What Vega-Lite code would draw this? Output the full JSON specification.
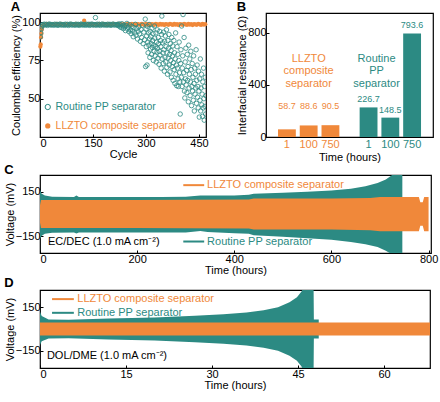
{
  "$schema": "https://vega.github.io/schema/vega-lite/v6.json",
  "padding": {"left": 3, "top": 0, "right": 4, "bottom": 0},
  "spacing": 0,
  "config": {
    "font": "Liberation Sans",
    "view": {"stroke": "black", "strokeWidth": 1.2},
    "axis": {"grid": false, "domain": false, "labelFontSize": 11, "titleFontSize": 11, "titleFontWeight": "normal", "labelColor": "black", "titleColor": "black", "tickColor": "black", "tickSize": -3, "labelPadding": 3, "titlePadding": 0, "labelFont": "Liberation Sans", "titleFont": "Liberation Sans"},
    "title": {"fontSize": 13, "fontWeight": "bold", "anchor": "start", "frame": "bounds", "offset": 0, "font": "Liberation Sans", "color": "black"}
  },
  "datasets": {
    "ppC": [
      {"t": 0, "hi": 165, "lo": -170}, {"t": 3, "hi": 140, "lo": -150}, {"t": 10, "hi": 125, "lo": -135}, {"t": 25, "hi": 118, "lo": -128},
      {"t": 70, "hi": 116, "lo": -126}, {"t": 75, "hi": 125, "lo": -132}, {"t": 80, "hi": 116, "lo": -126}, {"t": 150, "hi": 115, "lo": -125},
      {"t": 250, "hi": 115, "lo": -125}, {"t": 300, "hi": 117, "lo": -126}, {"t": 330, "hi": 125, "lo": -115}, {"t": 345, "hi": 125, "lo": -122},
      {"t": 400, "hi": 125, "lo": -130}, {"t": 430, "hi": 130, "lo": -135}, {"t": 440, "hi": 138, "lo": -145}, {"t": 500, "hi": 145, "lo": -155},
      {"t": 550, "hi": 152, "lo": -165}, {"t": 600, "hi": 160, "lo": -175}, {"t": 640, "hi": 172, "lo": -190}, {"t": 670, "hi": 188, "lo": -205},
      {"t": 695, "hi": 210, "lo": -225}, {"t": 712, "hi": 235, "lo": -250}, {"t": 725, "hi": 265, "lo": -275}, {"t": 735, "hi": 300, "lo": -300},
      {"t": 746, "hi": 300, "lo": -300}
    ],
    "llC": [
      {"t": 0, "hi": 60, "lo": -60}, {"t": 2, "hi": 95, "lo": -95}, {"t": 200, "hi": 95, "lo": -95}, {"t": 300, "hi": 96, "lo": -96},
      {"t": 430, "hi": 98, "lo": -98}, {"t": 440, "hi": 105, "lo": -105}, {"t": 600, "hi": 105, "lo": -105}, {"t": 680, "hi": 108, "lo": -110},
      {"t": 700, "hi": 115, "lo": -118}, {"t": 780, "hi": 115, "lo": -118}, {"t": 783, "hi": 80, "lo": -80}, {"t": 788, "hi": 80, "lo": -80},
      {"t": 791, "hi": 115, "lo": -118}, {"t": 800, "hi": 115, "lo": -118}
    ],
    "ppD": [
      {"t": 0, "hi": 120, "lo": -110}, {"t": 0.3, "hi": 90, "lo": -85}, {"t": 1.5, "hi": 66, "lo": -66}, {"t": 5, "hi": 64, "lo": -64},
      {"t": 12, "hi": 72, "lo": -72}, {"t": 20, "hi": 80, "lo": -80}, {"t": 27, "hi": 92, "lo": -92}, {"t": 32, "hi": 102, "lo": -102},
      {"t": 36, "hi": 115, "lo": -115}, {"t": 39, "hi": 130, "lo": -130}, {"t": 41.5, "hi": 150, "lo": -150}, {"t": 43.5, "hi": 185, "lo": -185},
      {"t": 44.8, "hi": 220, "lo": -220}, {"t": 45.6, "hi": 260, "lo": -260}, {"t": 46, "hi": 300, "lo": -300}, {"t": 47.7, "hi": 300, "lo": -300},
      {"t": 47.75, "hi": 65, "lo": -65}, {"t": 48.6, "hi": 65, "lo": -65}
    ],
    "llD": [
      {"t": 0, "hi": 45, "lo": -45}, {"t": 68, "hi": 45, "lo": -45}
    ],
    "bars": [
      {"group": "LLZTO", "time": "1", "resistance": 58.7},
      {"group": "LLZTO", "time": "100", "resistance": 88.6},
      {"group": "LLZTO", "time": "750", "resistance": 90.5},
      {"group": "PP", "time": "1", "resistance": 226.7},
      {"group": "PP", "time": "100", "resistance": 148.5},
      {"group": "PP", "time": "750", "resistance": 793.6}
    ]
  },
  "vconcat": [
    {
      "hconcat": [
        {
          "width": 166, "height": 124,
          "title": {"text": "A", "offset": -1},
          "layer": [
            {
              "data": {"values": "cycle,ce\n1,84\n2,85.5\n3,90\n4,92.5\n5,95\n6,96.5\n8,97.8\n12,98.6\n16,98.2\n20,98.9\n24,98.4\n28,98.7\n32,98.1\n36,98.8\n40,98.5\n44,98.3\n48,98.9\n52,98.6\n56,98.2\n60,98.9\n64,98.4\n68,98.7\n72,98.1\n76,98.8\n80,98.5\n84,98.3\n88,98.9\n92,98.6\n96,98.2\n100,98.9\n104,98.4\n108,98.7\n112,98.1\n116,98.8\n120,98.5\n124,98.3\n125,101\n128,98.9\n132,98.6\n136,98.2\n140,98.9\n144,98.4\n148,98.7\n152,98.1\n156,98.8\n160,98.5\n164,98.3\n168,98.9\n172,98.6\n176,98.2\n180,98.9\n184,98.4\n188,98.7\n192,98.1\n196,98.8\n200,98.5\n204,98.3\n208,98.9\n212,98.6\n216,98.2\n220,98.9\n224,98.4\n228,98.7\n232,98.1\n236,98.8\n240,98.5\n244,98.3\n248,98.9\n252,98.6\n256,98.2\n260,98.9\n264,98.4\n268,98.7\n272,98.1\n276,98.8\n280,98.5\n284,98.3\n288,98.9\n292,98.6\n296,98.2\n300,98.9\n304,98.4\n308,98.7\n312,98.1\n316,98.8\n320,98.5\n324,98.3\n328,98.9\n332,98.6\n336,98.2\n340,98.9\n344,98.4\n348,98.7\n352,98.1\n356,98.8\n360,98.5\n364,98.3\n368,98.9\n372,98.6\n376,98.2\n380,98.9\n384,98.4\n388,98.7\n392,98.1\n396,98.8\n400,98.5\n404,98.3\n408,98.9\n412,98.6\n416,98.2\n420,98.9\n424,98.4\n428,98.7\n432,98.1\n436,98.8\n440,98.5\n444,98.3\n448,98.9\n452,98.6\n456,98.2\n460,98.9\n464,98.4\n468,98.7", "format": {"type": "csv", "parse": {"cycle": "number", "ce": "number"}}},
              "mark": {"type": "circle", "size": 18, "color": "#F0883A", "opacity": 1},
              "encoding": {
                "x": {"field": "cycle", "type": "quantitative", "scale": {"domain": [0, 470], "nice": false}, "axis": {"values": [0, 150, 300, 450], "title": "Cycle"}},
                "y": {"field": "ce", "type": "quantitative", "scale": {"domain": [25, 106], "nice": false}, "axis": {"values": [50, 75, 100], "title": "Coulombic efficiency (%)"}}
              }
            },
            {
              "data": {"values": "cycle,ce\n1,90.5\n2,93\n3,95.5\n4,97\n6,98.4\n9,98\n12,98.7\n15,98.2\n18,98.6\n21,97.9\n24,98.5\n27,98.8\n30,98.1\n33,98.4\n36,98.4\n39,98\n42,98.7\n45,98.2\n48,98.6\n51,97.9\n54,98.5\n57,98.8\n60,98.1\n63,98.4\n66,98.4\n69,98\n72,98.7\n75,98.2\n78,98.6\n81,97.9\n84,98.5\n87,98.8\n90,98.1\n93,98.4\n96,98.4\n99,98\n102,98.7\n105,98.2\n108,98.6\n111,97.9\n114,98.5\n117,98.8\n120,98.1\n123,98.4\n126,98.4\n129,98\n132,98.7\n135,98.2\n138,98.6\n141,97.9\n144,98.5\n147,98.8\n150,98.1\n153,98.4\n156,98.4\n157,103\n159,98\n162,98.7\n165,98.2\n168,98.6\n171,97.9\n174,98.5\n177,98.8\n180,98.1\n183,98.4\n186,98.4\n189,98\n192,98.7\n195,98.2\n198,98.6\n201,97.9\n204,98.5\n207,98.8\n210,98.1\n213,98.4\n216,98.4\n219,98\n220,98.5\n222,97.8\n224,98.9\n226,97\n228,98.2\n230,96.5\n232,99\n234,97.5\n236,95.8\n238,98\n240,96.9\n242,94.5\n244,97.8\n246,99.2\n248,95.5\n250,96.8\n252,93.8\n254,98.3\n256,95\n258,92.5\n260,97.2\n262,94.2\n264,90.5\n266,96.5\n268,93\n270,98.6\n272,91.5\n274,95.8\n276,89\n278,94\n280,97\n282,92.3\n284,87.5\n286,95.2\n288,90\n290,98\n292,86\n294,93.5\n296,88.5\n298,102\n299,71\n300,95.5\n301,84\n302,91\n303,72\n304,97.3\n305,87\n306,80\n307,93\n308,85\n309,98.5\n310,89\n311,77\n312,94\n313,82.5\n314,90.5\n315,86\n316,79\n317,96\n318,83.5\n319,88\n320,92.5\n321,75\n322,85\n323,81\n324,97.5\n325,89.5\n326,78\n327,84\n328,93\n329,74\n330,87\n331,80.5\n332,95\n333,83\n334,76.5\n335,90\n336,86\n337,72.5\n338,81\n339,94\n340,78.5\n341,88\n342,84\n343,70\n344,92\n345,104\n346,76\n347,86.5\n348,80\n349,73\n350,93.5\n351,82\n352,68\n353,87.5\n354,77\n355,91\n356,74\n357,84\n358,95\n359,70.5\n360,80\n361,66\n362,88\n363,76.5\n364,83\n365,92\n366,72\n367,79\n368,67.5\n369,86\n370,75\n371,81.5\n372,64\n373,90\n374,71\n375,78\n376,84.5\n377,62\n378,73.5\n379,88\n380,69\n381,80\n382,60\n383,76\n384,93\n385,66\n386,72\n387,58.5\n388,84\n389,70\n390,79\n391,63\n392,58\n393,75\n394,87\n395,67\n396,61\n397,40\n398,73\n399,82\n400,64\n401,97.5\n402,58\n403,70\n404,78\n405,105\n406,61\n407,67\n408,90\n409,55\n410,50.5\n411,74\n412,63\n413,83\n414,59\n415,68.5\n416,54\n417,79\n418,62\n419,71\n420,48\n421,85\n422,57\n423,66\n424,76\n425,52\n426,61\n427,81\n428,69\n429,45.5\n430,58\n431,73\n432,55\n433,64\n434,49\n435,78\n436,60\n437,42\n438,70\n439,53\n440,66\n441,57\n442,82\n443,47\n444,62\n445,72\n446,51\n447,58\n448,44\n449,68\n450,55\n451,38\n452,63\n453,49\n454,76\n455,42\n456,57\n457,66\n458,46\n459,53\n460,38.5\n461,61\n462,44\n463,70\n464,50\n465,36\n466,58\n467,45\n468,64\n469,40\n470,52", "format": {"type": "csv", "parse": {"cycle": "number", "ce": "number"}}},
              "mark": {"type": "point", "shape": "circle", "size": 20, "color": "#2C8A83", "filled": false, "strokeWidth": 0.8, "opacity": 1, "clip": true},
              "encoding": {
                "x": {"field": "cycle", "type": "quantitative"},
                "y": {"field": "ce", "type": "quantitative"}
              }
            },
            {
              "data": {"values": [{}]},
              "mark": {"type": "point", "shape": "circle", "size": 28, "color": "#2C8A83", "filled": false, "strokeWidth": 1, "opacity": 1},
              "encoding": {"x": {"datum": 22}, "y": {"datum": 44.6}}
            },
            {
              "data": {"values": [{}]},
              "mark": {"type": "circle", "size": 28, "color": "#F0883A", "opacity": 1},
              "encoding": {"x": {"datum": 22}, "y": {"datum": 32.2}}
            },
            {
              "data": {"values": [{}]},
              "mark": {"type": "text", "align": "left", "baseline": "middle", "fontSize": 10.5, "color": "#2C8A83", "text": "Routine PP separator"},
              "encoding": {"x": {"datum": 44}, "y": {"datum": 44.6}}
            },
            {
              "data": {"values": [{}]},
              "mark": {"type": "text", "align": "left", "baseline": "middle", "fontSize": 10.5, "color": "#F0883A", "text": "LLZTO composite separator"},
              "encoding": {"x": {"datum": 44}, "y": {"datum": 32.2}}
            }
          ]
        },
        {
          "width": 167, "height": 124,
          "title": {"text": "B", "offset": -1},
          "data": {"name": "bars"},
          "encoding": {
            "x": {"field": "group", "type": "nominal", "scale": {"domain": ["LLZTO", "PP"], "paddingInner": 0.195, "paddingOuter": 0.12}, "axis": {"labels": false, "ticks": false, "title": "Time (hours)", "titlePadding": 14}},
            "xOffset": {"field": "time", "type": "nominal", "scale": {"domain": ["1", "100", "750"], "paddingInner": 0.18, "paddingOuter": 0.1}},
            "color": {"field": "group", "type": "nominal", "scale": {"domain": ["LLZTO", "PP"], "range": ["#F0883A", "#2C8A83"]}, "legend": null}
          },
          "layer": [
            {
              "mark": {"type": "bar"},
              "encoding": {"y": {"field": "resistance", "type": "quantitative", "scale": {"domain": [0, 950], "nice": false}, "axis": {"values": [0, 200, 400, 600, 800], "title": "Interfacial resistance (Ω)"}}}
            },
            {
              "transform": [{"filter": "datum.group === 'PP'"}],
              "mark": {"type": "text", "baseline": "bottom", "dy": -3, "fontSize": 9},
              "encoding": {"y": {"field": "resistance", "type": "quantitative"}, "text": {"field": "resistance", "type": "quantitative", "format": ".1f"}}
            },
            {
              "transform": [{"filter": "datum.group === 'LLZTO'"}],
              "mark": {"type": "text", "baseline": "bottom", "fontSize": 9},
              "encoding": {"y": {"datum": 200}, "text": {"field": "resistance", "type": "quantitative", "format": ".1f"}}
            },
            {
              "mark": {"type": "text", "baseline": "top", "dy": 2, "fontSize": 11},
              "encoding": {"y": {"datum": 0}, "text": {"field": "time"}}
            },
            {
              "data": {"values": [{"group": "LLZTO", "time": "100"}]},
              "mark": {"type": "text", "text": ["LLZTO", "composite", "separator"], "lineHeight": 12.5, "fontSize": 11, "baseline": "middle"},
              "encoding": {"y": {"datum": 600}}
            },
            {
              "data": {"values": [{"group": "PP", "time": "1"}]},
              "mark": {"type": "text", "text": ["Routine", "PP", "separator"], "lineHeight": 12.5, "fontSize": 11, "baseline": "middle", "dx": 8},
              "encoding": {"y": {"datum": 600}}
            }
          ]
        }
      ],
      "spacing": 27
    },
    {
      "width": 391, "height": 78,
      "title": {"text": "C", "offset": -2},
      "layer": [
        {
          "data": {"name": "ppC"},
          "mark": {"type": "area", "color": "#2C8A83", "clip": true, "opacity": 1},
          "encoding": {
            "x": {"field": "t", "type": "quantitative", "scale": {"domain": [0, 805], "nice": false}, "axis": {"values": [0, 200, 400, 600, 800], "title": "Time (hours)"}},
            "y": {"field": "hi", "type": "quantitative", "scale": {"domain": [-265, 265], "nice": false}, "axis": {"values": [-150, 0, 150], "title": "Voltage (mV)"}},
            "y2": {"field": "lo"}
          }
        },
        {
          "data": {"name": "llC"},
          "mark": {"type": "area", "color": "#F0883A", "clip": true, "opacity": 1},
          "encoding": {"x": {"field": "t", "type": "quantitative"}, "y": {"field": "hi", "type": "quantitative"}, "y2": {"field": "lo"}}
        },
        {
          "data": {"values": [{}]},
          "mark": {"type": "rule", "color": "#F0883A", "strokeWidth": 2},
          "encoding": {"x": {"datum": 295}, "x2": {"datum": 338}, "y": {"datum": 196}}
        },
        {
          "data": {"values": [{}]},
          "mark": {"type": "rule", "color": "#2C8A83", "strokeWidth": 2},
          "encoding": {"x": {"datum": 295}, "x2": {"datum": 338}, "y": {"datum": -187}}
        },
        {
          "data": {"values": [{}]},
          "mark": {"type": "text", "align": "left", "baseline": "middle", "fontSize": 11, "color": "#F0883A", "text": "LLZTO composite separator"},
          "encoding": {"x": {"datum": 344}, "y": {"datum": 196}}
        },
        {
          "data": {"values": [{}]},
          "mark": {"type": "text", "align": "left", "baseline": "middle", "fontSize": 11, "color": "#2C8A83", "text": "Routine PP separator"},
          "encoding": {"x": {"datum": 344}, "y": {"datum": -187}}
        },
        {
          "data": {"values": [{}]},
          "mark": {"type": "text", "align": "left", "baseline": "middle", "fontSize": 11, "color": "black", "text": "EC/DEC (1.0 mA cm⁻²)"},
          "encoding": {"x": {"datum": 16.5}, "y": {"datum": -187}}
        }
      ]
    },
    {
      "width": 390, "height": 78,
      "title": {"text": "D", "offset": 0},
      "layer": [
        {
          "data": {"name": "ppD"},
          "mark": {"type": "area", "color": "#2C8A83", "clip": true, "opacity": 1},
          "encoding": {
            "x": {"field": "t", "type": "quantitative", "scale": {"domain": [0, 68], "nice": false}, "axis": {"values": [0, 15, 30, 45, 60], "title": "Time (hours)"}},
            "y": {"field": "hi", "type": "quantitative", "scale": {"domain": [-270, 270], "nice": false}, "axis": {"values": [-150, 0, 150], "title": "Voltage (mV)"}},
            "y2": {"field": "lo"}
          }
        },
        {
          "data": {"name": "llD"},
          "mark": {"type": "area", "color": "#F0883A", "clip": true, "opacity": 1},
          "encoding": {"x": {"field": "t", "type": "quantitative"}, "y": {"field": "hi", "type": "quantitative"}, "y2": {"field": "lo"}}
        },
        {
          "data": {"values": [{}]},
          "mark": {"type": "rule", "color": "#F0883A", "strokeWidth": 2},
          "encoding": {"x": {"datum": 2.1}, "x2": {"datum": 5.9}, "y": {"datum": 207}}
        },
        {
          "data": {"values": [{}]},
          "mark": {"type": "rule", "color": "#2C8A83", "strokeWidth": 2},
          "encoding": {"x": {"datum": 2.1}, "x2": {"datum": 5.9}, "y": {"datum": 112}}
        },
        {
          "data": {"values": [{}]},
          "mark": {"type": "text", "align": "left", "baseline": "middle", "fontSize": 11, "color": "#F0883A", "text": "LLZTO composite separator"},
          "encoding": {"x": {"datum": 6.5}, "y": {"datum": 207}}
        },
        {
          "data": {"values": [{}]},
          "mark": {"type": "text", "align": "left", "baseline": "middle", "fontSize": 11, "color": "#2C8A83", "text": "Routine PP separator"},
          "encoding": {"x": {"datum": 6.5}, "y": {"datum": 112}}
        },
        {
          "data": {"values": [{}]},
          "mark": {"type": "text", "align": "left", "baseline": "middle", "fontSize": 11, "color": "black", "text": "DOL/DME (1.0 mA cm⁻²)"},
          "encoding": {"x": {"datum": 1.2}, "y": {"datum": -186}}
        }
      ]
    }
  ]
}
